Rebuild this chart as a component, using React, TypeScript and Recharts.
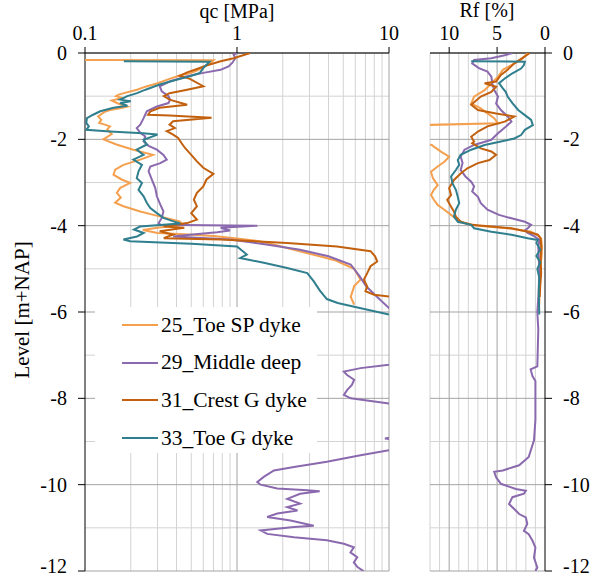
import React from 'react';
import { ScatterChart, Scatter, XAxis, YAxis, ReferenceLine, Legend } from 'recharts';

const FONT = 'Liberation Serif, Times New Roman, serif';

// axes
const QC_TICKS = [0.1, 1, 10];
const QC_MINOR = [0.2, 0.3, 0.4, 0.5, 0.6, 0.7, 0.8, 0.9, 2, 3, 4, 5, 6, 7, 8, 9];
const RF_TICKS = [0, 5, 10];
const RF_MINOR = [1, 2, 3, 4, 6, 7, 8, 9, 11, 12];
const DEPTH_TICKS = [0, -2, -4, -6, -8, -10, -12];
const DEPTH_MINOR = [-1, -3, -5, -7, -9, -11];

// [level m+NAP, qc MPa]
const qc25: [number, number][] = [
  [-0.16, 0.1], [-0.165, 0.7], [-0.2, 0.68], [-0.25, 0.66], [-0.33, 0.6], [-0.4, 0.55], [-0.46, 0.5],
  [-0.52, 0.42], [-0.6, 0.36], [-0.7, 0.3], [-0.78, 0.25], [-0.85, 0.22], [-0.93, 0.18], [-0.97, 0.165],
  [-1.0, 0.16], [-1.04, 0.175], [-1.1, 0.15], [-1.17, 0.165], [-1.24, 0.19], [-1.28, 0.17], [-1.32, 0.146],
  [-1.36, 0.135], [-1.47, 0.122], [-1.55, 0.128], [-1.62, 0.124], [-1.66, 0.135], [-1.7, 0.146], [-1.77, 0.14],
  [-1.88, 0.15], [-2.0, 0.132], [-2.12, 0.161], [-2.24, 0.208], [-2.36, 0.28], [-2.47, 0.231], [-2.59, 0.179],
  [-2.7, 0.158], [-2.82, 0.154], [-2.93, 0.174], [-3.01, 0.198], [-3.13, 0.17], [-3.24, 0.162], [-3.35, 0.172],
  [-3.47, 0.158], [-3.55, 0.179], [-3.67, 0.231], [-3.75, 0.282], [-3.82, 0.34], [-3.9, 0.42], [-3.98, 0.44],
  [-4.05, 0.3], [-4.1, 0.24], [-4.17, 0.3], [-4.2, 0.45], [-4.24, 0.7], [-4.3, 1.0], [-4.36, 1.4], [-4.45, 1.8],
  [-4.55, 2.3], [-4.65, 3.0], [-4.72, 3.6], [-4.8, 4.4], [-4.9, 5.1], [-5.0, 5.9], [-5.25, 6.5], [-5.4, 5.9],
  [-5.65, 5.6], [-5.83, 5.9],
];

const qc29: [number, number][] = [
  [0, 1.0], [-0.04, 0.95], [-0.12, 0.975], [-0.23, 0.93], [-0.31, 0.88], [-0.39, 0.78], [-0.46, 0.6],
  [-0.54, 0.47], [-0.66, 0.36], [-0.77, 0.31], [-0.89, 0.32], [-1.0, 0.354], [-1.08, 0.363], [-1.16, 0.354],
  [-1.24, 0.297], [-1.35, 0.255], [-1.51, 0.243], [-1.66, 0.231], [-1.74, 0.219], [-1.85, 0.231],
  [-1.93, 0.249], [-2.05, 0.243], [-2.15, 0.262], [-2.24, 0.297], [-2.36, 0.328], [-2.47, 0.345],
  [-2.55, 0.313], [-2.63, 0.269], [-2.74, 0.262], [-2.93, 0.275], [-3.13, 0.29], [-3.32, 0.297],
  [-3.51, 0.313], [-3.67, 0.328], [-3.82, 0.32], [-3.94, 0.305], [-3.98, 0.313], [-4.0, 1.36], [-4.05, 0.78],
  [-4.11, 0.9], [-4.15, 0.74], [-4.21, 0.49], [-4.25, 0.38], [-4.32, 0.9], [-4.44, 1.6], [-4.56, 2.6],
  [-4.71, 4.0], [-4.9, 5.6], [-5.17, 6.4], [-5.41, 7.1], [-5.64, 8.3], [-5.91, 10.0], [-5.95, 13],
  [-7.15, 13], [-7.22, 10.0], [-7.3, 6.5], [-7.38, 5.05], [-7.46, 5.3], [-7.57, 5.9], [-7.69, 5.7],
  [-7.81, 5.3], [-7.92, 5.05], [-8.0, 5.6], [-8.12, 10.0], [-8.2, 13], [-8.85, 13], [-8.93, 9.4],
  [-9.0, 13], [-9.15, 13], [-9.2, 10.0], [-9.32, 6.5], [-9.47, 3.9], [-9.59, 2.37], [-9.67, 1.75],
  [-9.82, 1.5], [-9.94, 1.36], [-10.0, 1.43], [-10.09, 1.84], [-10.13, 2.9], [-10.15, 3.5], [-10.21, 2.6],
  [-10.33, 2.14], [-10.44, 2.6], [-10.52, 2.14], [-10.6, 2.5], [-10.67, 1.84], [-10.75, 1.58],
  [-10.83, 2.25], [-10.95, 3.2], [-10.98, 2.37], [-11.06, 1.43], [-11.14, 1.58], [-11.22, 2.37],
  [-11.29, 3.9], [-11.37, 5.05], [-11.45, 5.87], [-11.57, 5.58], [-11.68, 6.18], [-11.8, 5.87],
  [-11.91, 6.2], [-12.0, 6.8],
];

const qc31: [number, number][] = [
  [0, 1.22], [-0.12, 0.95], [-0.19, 0.78], [-0.29, 0.63], [-0.37, 0.545], [-0.45, 0.47], [-0.53, 0.42],
  [-0.6, 0.49], [-0.77, 0.6], [-0.85, 0.47], [-0.93, 0.36], [-1.0, 0.33], [-1.08, 0.36], [-1.2, 0.47],
  [-1.27, 0.31], [-1.35, 0.27], [-1.43, 0.26], [-1.45, 0.36], [-1.5, 0.68], [-1.58, 0.38], [-1.66, 0.36],
  [-1.74, 0.39], [-1.81, 0.345], [-1.89, 0.38], [-1.97, 0.41], [-2.08, 0.43], [-2.2, 0.455], [-2.36, 0.5],
  [-2.51, 0.545], [-2.66, 0.6], [-2.8, 0.7], [-2.93, 0.63], [-3.09, 0.6], [-3.24, 0.545], [-3.4, 0.52],
  [-3.55, 0.545], [-3.71, 0.5], [-3.86, 0.545], [-3.94, 0.47], [-4.02, 0.33], [-4.05, 0.45], [-4.13, 0.31],
  [-4.21, 0.38], [-4.26, 0.345], [-4.29, 0.33], [-4.32, 0.78], [-4.4, 2.14], [-4.48, 4.55], [-4.59, 7.56],
  [-4.71, 8.1], [-4.83, 8.37], [-4.94, 7.56], [-5.1, 7.19], [-5.25, 6.84], [-5.41, 7.19], [-5.52, 7.0],
  [-5.6, 7.96], [-5.64, 10.0], [-5.66, 12],
];

const qc33: [number, number][] = [
  [-0.19, 0.18], [-0.2, 0.66], [-0.25, 0.64], [-0.35, 0.6], [-0.46, 0.57], [-0.54, 0.49], [-0.62, 0.4],
  [-0.73, 0.31], [-0.85, 0.25], [-0.93, 0.22], [-1.0, 0.19], [-1.08, 0.17], [-1.12, 0.2], [-1.16, 0.17],
  [-1.22, 0.19], [-1.27, 0.154], [-1.35, 0.126], [-1.43, 0.113], [-1.51, 0.103], [-1.62, 0.102],
  [-1.7, 0.106], [-1.78, 0.102], [-1.82, 0.146], [-1.86, 0.24], [-1.89, 0.3], [-2.01, 0.243], [-2.12, 0.255],
  [-2.24, 0.219], [-2.36, 0.243], [-2.47, 0.208], [-2.59, 0.237], [-2.74, 0.225], [-2.9, 0.219],
  [-3.01, 0.237], [-3.17, 0.225], [-3.32, 0.243], [-3.47, 0.255], [-3.59, 0.269], [-3.71, 0.297],
  [-3.82, 0.328], [-3.9, 0.382], [-3.95, 0.423], [-4.02, 0.23], [-4.09, 0.21], [-4.17, 0.243], [-4.25, 0.22],
  [-4.32, 0.179], [-4.36, 0.198], [-4.42, 0.5], [-4.48, 1.0], [-4.67, 1.16], [-4.75, 1.05], [-4.86, 1.5],
  [-4.98, 2.14], [-5.1, 2.9], [-5.29, 3.2], [-5.5, 3.5], [-5.7, 3.9], [-5.79, 4.6], [-5.88, 5.9], [-6.06, 10.0],
];

// [level m+NAP, Rf %]
const rf25: [number, number][] = [
  [0, 1.8], [-0.16, 2.5], [-0.28, 3.5], [-0.39, 4.4], [-0.55, 4.9], [-0.7, 5.6], [-0.86, 6.3], [-1.01, 7.4],
  [-1.17, 7.7], [-1.28, 6.7], [-1.4, 6.0], [-1.51, 5.3], [-1.63, 4.9], [-1.67, 13], [-2.1, 13], [-2.13, 11.8],
  [-2.17, 11.6], [-2.28, 10.9], [-2.4, 10.0], [-2.52, 10.5], [-2.63, 11.2], [-2.75, 11.9], [-2.9, 11.7],
  [-3.06, 11.2], [-3.17, 11.6], [-3.29, 11.9], [-3.4, 11.6], [-3.52, 11.2], [-3.63, 10.5], [-3.75, 9.8],
  [-3.87, 9.1], [-3.94, 8.4], [-4.0, 7.0], [-4.06, 3.9], [-4.14, 1.45], [-4.25, 0.58], [-4.3, 0.4],
  [-4.5, 0.3], [-4.7, 0.35], [-5.0, 0.5], [-5.4, 0.55], [-5.83, 0.6],
];

const rf29: [number, number][] = [
  [0, 3.4], [-0.05, 4.2], [-0.12, 5.6], [-0.16, 7.4], [-0.24, 7.6], [-0.35, 6.9], [-0.43, 6.0], [-0.55, 5.6],
  [-0.7, 5.5], [-0.86, 5.3], [-1.01, 4.9], [-1.17, 5.1], [-1.32, 4.6], [-1.47, 3.9], [-1.59, 3.5],
  [-1.71, 4.1], [-1.86, 4.9], [-2.01, 5.6], [-2.13, 7.4], [-2.24, 8.4], [-2.4, 8.8], [-2.55, 8.6],
  [-2.71, 8.8], [-2.86, 8.3], [-2.98, 7.7], [-3.09, 7.4], [-3.21, 7.6], [-3.33, 7.0], [-3.48, 6.7],
  [-3.63, 6.0], [-3.75, 4.8], [-3.83, 3.5], [-3.91, 2.1], [-3.98, 1.45], [-4.06, 1.8], [-4.11, 2.1],
  [-4.17, 1.8], [-4.25, 1.1], [-4.33, 0.58], [-4.5, 0.7], [-5.0, 0.6], [-5.5, 0.65], [-6.0, 0.8],
  [-6.41, 0.7], [-7.26, 0.8], [-7.33, 1.5], [-7.49, 1.3], [-7.6, 1.0], [-8.0, 1.0], [-8.5, 1.0],
  [-8.97, 1.15], [-9.36, 1.7], [-9.55, 2.7], [-9.67, 4.4], [-9.7, 5.3], [-9.83, 5.1], [-9.98, 4.6],
  [-10.1, 3.05], [-10.14, 2.0], [-10.21, 2.2], [-10.29, 3.4], [-10.45, 3.75], [-10.6, 3.05], [-10.68, 2.7],
  [-10.76, 2.0], [-10.91, 1.85], [-11.07, 2.2], [-11.15, 1.7], [-11.3, 1.3], [-11.46, 1.0], [-11.69, 1.15],
  [-11.92, 0.8], [-12.0, 1.0],
];

const rf31: [number, number][] = [
  [0, 1.6], [-0.08, 2.1], [-0.24, 3.2], [-0.39, 3.9], [-0.51, 4.6], [-0.66, 5.1], [-0.7, 6.3], [-0.78, 5.1],
  [-0.9, 5.6], [-1.01, 6.7], [-1.2, 7.7], [-1.32, 7.0], [-1.4, 5.1], [-1.47, 3.2], [-1.59, 4.2], [-1.7, 6.0],
  [-1.82, 7.0], [-1.94, 7.7], [-2.05, 7.4], [-2.09, 7.6], [-2.21, 6.7], [-2.28, 5.6], [-2.36, 5.1],
  [-2.48, 5.8], [-2.55, 7.0], [-2.67, 8.1], [-2.79, 8.8], [-2.94, 9.5], [-3.13, 10.0], [-3.29, 9.8],
  [-3.4, 10.2], [-3.56, 9.8], [-3.67, 9.5], [-3.79, 9.3], [-3.91, 8.8], [-3.98, 7.7], [-4.02, 5.6],
  [-4.06, 3.5], [-4.14, 1.8], [-4.21, 0.75], [-4.3, 0.45], [-4.5, 0.4], [-4.8, 0.45], [-5.1, 0.4],
  [-5.4, 0.5], [-5.65, 0.55],
];

const rf33: [number, number][] = [
  [-0.19, 7.7], [-0.2, 2.1], [-0.28, 2.2], [-0.36, 2.5], [-0.47, 3.4], [-0.59, 4.2], [-0.7, 4.8],
  [-0.82, 4.4], [-0.9, 4.1], [-1.01, 3.9], [-1.16, 3.4], [-1.32, 2.8], [-1.44, 2.1], [-1.55, 1.45],
  [-1.67, 1.27], [-1.78, 2.1], [-1.9, 2.5], [-1.98, 3.2], [-2.05, 4.6], [-2.13, 6.3], [-2.24, 7.7],
  [-2.36, 8.8], [-2.48, 9.1], [-2.59, 8.95], [-2.71, 9.3], [-2.86, 9.8], [-3.02, 9.65], [-3.17, 9.3],
  [-3.33, 9.1], [-3.48, 8.95], [-3.63, 9.3], [-3.79, 9.5], [-3.91, 9.1], [-3.98, 7.7], [-4.06, 7.4],
  [-4.14, 5.6], [-4.21, 3.5], [-4.29, 1.8], [-4.33, 0.75], [-4.4, 0.9], [-4.55, 0.5], [-4.7, 0.9],
  [-4.85, 0.5], [-5.0, 0.8], [-5.2, 0.6], [-5.5, 0.65], [-6.06, 0.6],
];

const SERIES = [
  { name: '25_Toe SP dyke', color: '#F5A04F', qc: qc25, rf: rf25 },
  { name: '29_Middle deep', color: '#8A69AE', qc: qc29, rf: rf29 },
  { name: '31_Crest G dyke', color: '#C2600E', qc: qc31, rf: rf31 },
  { name: '33_Toe G dyke', color: '#2F7F8E', qc: qc33, rf: rf33 },
];

const MAJOR = '#a3a3a3';
const MINOR = '#d3d3d3';
const tickStyle = { fill: '#000', fontSize: 20, fontFamily: FONT };

const NoDot = () => null;

const toPoints = (rows: [number, number][], field: string) =>
  rows.map(([z, v]) => ({ z, [field]: v }));

function LegendBox() {
  return (
    <div style={{ background: '#fff', width: 222, height: 146, position: 'relative', fontFamily: FONT, fontSize: 21.5 }}>
      {SERIES.map((s, i) => (
        <div key={s.name} style={{ position: 'absolute', left: 27, top: 6 + i * 37.7, height: 24, display: 'flex', alignItems: 'center' }}>
          <span style={{ display: 'inline-block', width: 36, height: 2, background: s.color }} />
          <span style={{ marginLeft: 3, whiteSpace: 'nowrap', color: '#000' }}>{s.name}</span>
        </div>
      ))}
    </div>
  );
}

function gridLines(minorX: number[], majorX: number[]) {
  return [
    ...minorX.map((v) => <ReferenceLine key={`mx${v}`} x={v} stroke={MINOR} strokeWidth={1} />),
    ...DEPTH_MINOR.map((v) => <ReferenceLine key={`my${v}`} y={v} stroke={MINOR} strokeWidth={1} />),
    ...majorX.map((v) => <ReferenceLine key={`Mx${v}`} x={v} stroke={MAJOR} strokeWidth={1} />),
    ...DEPTH_TICKS.map((v) => <ReferenceLine key={`My${v}`} y={v} stroke={MAJOR} strokeWidth={1} />),
  ];
}

export default function App() {
  return (
    <div style={{ position: 'absolute', left: 0, top: 0, width: 606, height: 577, background: '#fff', fontFamily: FONT }}>
      <div style={{ position: 'absolute', left: 0, top: 0 }}>
        <ScatterChart width={400} height={577} margin={{ top: 0, right: 11, bottom: 6, left: 0 }}>
          {gridLines(QC_MINOR, [1, 10])}
          <XAxis
            type="number"
            dataKey="qc"
            scale="log"
            domain={[0.1, 10]}
            ticks={QC_TICKS}
            orientation="top"
            height={53}
            allowDataOverflow
            tickSize={6}
            tickMargin={7}
            axisLine={{ stroke: '#000' }}
            tickLine={{ stroke: '#000' }}
            tick={tickStyle}
            tickFormatter={(v) => String(v)}
          />
          <YAxis
            type="number"
            dataKey="z"
            domain={[-12, 0]}
            ticks={DEPTH_TICKS}
            width={85}
            allowDataOverflow
            tickSize={7}
            tickMargin={11}
            axisLine={{ stroke: '#000' }}
            tickLine={{ stroke: '#000' }}
            tick={tickStyle}
          />
          {SERIES.map((s) => (
            <Scatter
              key={s.name}
              name={s.name}
              data={toPoints(s.qc, 'qc')}
              fill={s.color}
              line={{ stroke: s.color, strokeWidth: 2 }}
              lineType="joint"
              shape={NoDot}
              isAnimationActive={false}
            />
          ))}
          <Legend
            layout="vertical"
            align="center"
            verticalAlign="middle"
            content={() => <LegendBox />}
            wrapperStyle={{ left: 95, top: 307, width: 222, height: 146 }}
          />
        </ScatterChart>
      </div>
      <div style={{ position: 'absolute', left: 400, top: 0 }}>
        <ScatterChart width={206} height={577} margin={{ top: 0, right: 0, bottom: 6, left: 30 }}>
          {gridLines(RF_MINOR, [5, 10])}
          <XAxis
            type="number"
            dataKey="rf"
            domain={[0, 12]}
            reversed
            ticks={RF_TICKS}
            orientation="top"
            height={53}
            allowDataOverflow
            tickSize={6}
            tickMargin={7}
            axisLine={{ stroke: '#000' }}
            tickLine={{ stroke: '#000' }}
            tick={tickStyle}
          />
          <YAxis
            type="number"
            dataKey="z"
            domain={[-12, 0]}
            ticks={DEPTH_TICKS}
            orientation="right"
            width={61}
            allowDataOverflow
            tickSize={7}
            tickMargin={11}
            axisLine={{ stroke: '#000' }}
            tickLine={{ stroke: '#000' }}
            tick={tickStyle}
          />
          {SERIES.map((s) => (
            <Scatter
              key={s.name}
              name={s.name}
              data={toPoints(s.rf, 'rf')}
              fill={s.color}
              line={{ stroke: s.color, strokeWidth: 2 }}
              lineType="joint"
              shape={NoDot}
              isAnimationActive={false}
            />
          ))}
        </ScatterChart>
      </div>
      <svg width={606} height={577} style={{ position: 'absolute', left: 0, top: 0, pointerEvents: 'none' }}>
        <text x={237} y={18} textAnchor="middle" fontFamily={FONT} fontSize={20}>qc [MPa]</text>
        <text x={487} y={17} textAnchor="middle" fontFamily={FONT} fontSize={20}>Rf [%]</text>
        <text x={29} y={310} textAnchor="middle" fontFamily={FONT} fontSize={21} transform="rotate(-90 29 310)">
          Level [m+NAP]
        </text>
      </svg>
    </div>
  );
}
